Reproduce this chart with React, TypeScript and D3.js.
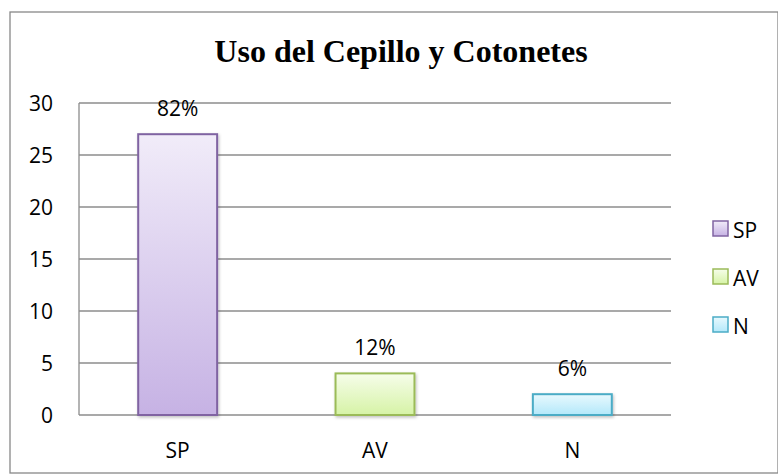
import React from "react";
import * as d3 from "d3";

const categories = ["SP", "AV", "N"];
const values = [27, 4, 2];
const percentLabels = ["82%", "12%", "6%"];
const yTicks = [0, 5, 10, 15, 20, 25, 30];

const palette = [
  { top: "#f1ecf9", bottom: "#c6b2e4", stroke: "#8064a2" },
  { top: "#f6fdea", bottom: "#d6f3a6", stroke: "#9bbb59" },
  { top: "#e8f9fe", bottom: "#b3e8fa", stroke: "#4bacc6" },
];

const W = 778;
const H = 474;
const plot = { left: 79, right: 671, top: 103, bottom: 415 };
const labelFont = "'Open Sans', 'DejaVu Sans', sans-serif";
const labelSize = 21;

export default function App() {
  const x = d3
    .scaleBand<string>()
    .domain(categories)
    .range([plot.left, plot.right])
    .padding(0);
  const y = d3.scaleLinear().domain([0, 30]).range([plot.bottom, plot.top]);
  const barW = x.bandwidth() * 0.4;

  return (
    <svg
      width={W}
      height={H}
      style={{ position: "absolute", left: 0, top: 0, background: "#fff" }}
    >
      <defs>
        {palette.map((p, i) => (
          <linearGradient key={i} id={`grad${i}`} x1="0" y1="0" x2="0" y2="1">
            <stop offset="0%" stopColor={p.top} />
            <stop offset="100%" stopColor={p.bottom} />
          </linearGradient>
        ))}
        <filter id="shadow" x="-20%" y="-20%" width="140%" height="140%">
          <feDropShadow dx="1" dy="1.5" stdDeviation="1.5" floodColor="#000" floodOpacity="0.25" />
        </filter>
      </defs>

      {/* outer frame */}
      <rect x={10} y={12} width={W - 10} height={H - 13} fill="#fff" stroke="#888" strokeWidth={1.3} />

      <text
        x={401}
        y={62}
        textAnchor="middle"
        fontFamily="'Liberation Serif', 'Times New Roman', serif"
        fontWeight="bold"
        fontSize={32}
      >
        Uso del Cepillo y Cotonetes
      </text>

      {/* gridlines */}
      {yTicks.map((t) => (
        <line
          key={t}
          x1={plot.left}
          x2={plot.right}
          y1={y(t)}
          y2={y(t)}
          stroke="#8c8c8c"
          strokeWidth={1.3}
        />
      ))}
      <line x1={plot.left} x2={plot.left} y1={plot.top} y2={plot.bottom} stroke="#8c8c8c" strokeWidth={1.3} />

      {yTicks.map((t) => (
        <text
          key={t}
          x={53}
          y={y(t) + 7.5}
          textAnchor="end"
          fontFamily={labelFont}
          fontSize={labelSize}
          fill="#000"
        >
          {t}
        </text>
      ))}

      {/* bars */}
      {categories.map((c, i) => {
        const cx = (x(c) ?? 0) + x.bandwidth() / 2;
        return (
          <g key={c}>
            <rect
              x={cx - barW / 2}
              y={y(values[i])}
              width={barW}
              height={y(0) - y(values[i])}
              fill={`url(#grad${i})`}
              stroke={palette[i].stroke}
              strokeWidth={2}
              filter="url(#shadow)"
            />
            <text
              x={cx}
              y={y(values[i]) - 18}
              textAnchor="middle"
              fontFamily={labelFont}
              fontSize={labelSize}
            >
              {percentLabels[i]}
            </text>
            <text x={cx} y={458} textAnchor="middle" fontFamily={labelFont} fontSize={labelSize}>
              {c}
            </text>
          </g>
        );
      })}

      {/* legend */}
      {categories.map((c, i) => (
        <g key={c} transform={`translate(713, ${221 + i * 48})`}>
          <rect
            width={15}
            height={15}
            fill={`url(#grad${i})`}
            stroke={palette[i].stroke}
            strokeWidth={1.5}
          />
          <text x={20} y={16.5} fontFamily={labelFont} fontSize={labelSize}>
            {c}
          </text>
        </g>
      ))}
    </svg>
  );
}
